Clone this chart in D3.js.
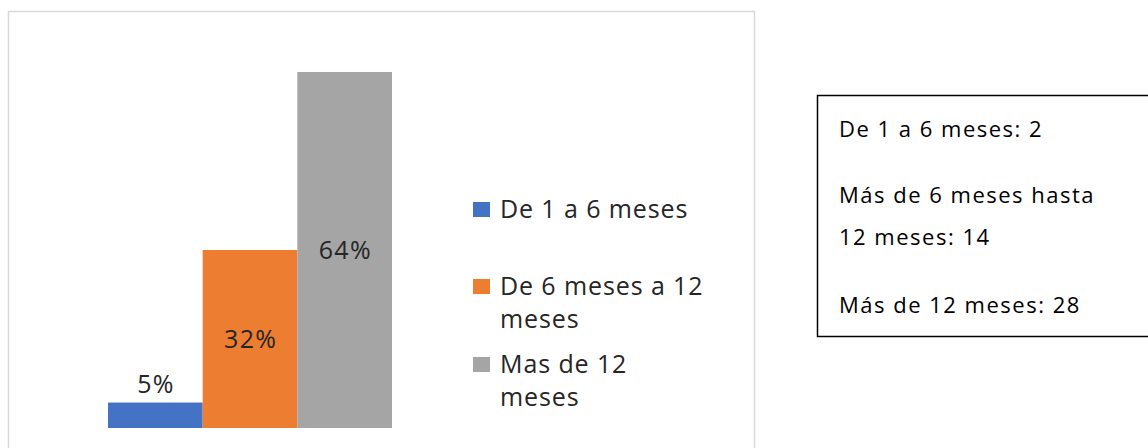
<!DOCTYPE html>
<html>
<head>
<meta charset="utf-8">
<script src="https://cdn.jsdelivr.net/npm/d3@7"></script>
<style>
  html, body { margin: 0; padding: 0; background: #fff; }
  svg { display: block; }
</style>
</head>
<body>
<svg id="chart" width="1148" height="448"></svg>
<script>
// data
const categories = ['De 1 a 6 meses', 'De 6 meses a 12 meses', 'Mas de 12 meses'];
const percents = [4.55, 31.82, 63.64];
const percentLabels = ['5%', '32%', '64%'];
const colors = ['#4472c4', '#ed7d31', '#a5a5a5'];
const legendLines = [['De 1 a 6 meses'], ['De 6 meses a 12', 'meses'], ['Mas de 12', 'meses']];
const boxLines = ['De 1 a 6 meses: 2', 'Más de 6 meses hasta', '12 meses: 14', 'Más de 12 meses: 28'];

const svg = d3.select('#chart');
const font = "'Open Sans', 'Noto Sans', sans-serif";

// chart frame
svg.append('rect')
  .attr('x', 8.5).attr('y', 11.5)
  .attr('width', 746).attr('height', 460)
  .attr('fill', '#fff')
  .attr('stroke', '#d9d9d9')
  .attr('stroke-width', 1.5);

// scales
const x = d3.scaleBand()
  .domain(categories)
  .range([108, 392])
  .padding(0);

const y = d3.scaleLinear()
  .domain([0, 70])
  .range([428, 36.4]);

// bars
svg.selectAll('rect.bar')
  .data(categories)
  .enter()
  .append('rect')
  .attr('class', 'bar')
  .attr('x', d => x(d))
  .attr('y', (d, i) => y(percents[i]))
  .attr('width', x.bandwidth())
  .attr('height', (d, i) => y(0) - y(percents[i]))
  .attr('fill', (d, i) => colors[i]);

// value labels: centred inside, or above the bar when it is too short
svg.selectAll('text.val')
  .data(categories)
  .enter()
  .append('text')
  .attr('class', 'val')
  .attr('x', d => x(d) + x.bandwidth() / 2 + 0.7)
  .attr('y', (d, i) => {
    const h = y(0) - y(percents[i]);
    return h > 40 ? (y(0) + y(percents[i])) / 2 + 9.5 : y(percents[i]) - 10;
  })
  .attr('text-anchor', 'middle')
  .attr('font-family', font)
  .attr('font-size', 25)
  .attr('letter-spacing', 1.4)
  .attr('fill', '#262626')
  .text((d, i) => percentLabels[i]);

// legend
const legendTop = [202, 279, 357];
const legend = svg.append('g');
categories.forEach((c, i) => {
  const g = legend.append('g').attr('transform', `translate(473,${legendTop[i]})`);
  g.append('rect')
    .attr('width', 17).attr('height', 15)
    .attr('fill', colors[i]);
  legendLines[i].forEach((line, j) => {
    g.append('text')
      .attr('x', 27)
      .attr('y', 15.5 + j * 33)
      .attr('font-family', font)
      .attr('font-size', 25)
      .attr('letter-spacing', 0.9)
      .attr('fill', '#262626')
      .text(line);
  });
});

// side text box
svg.append('rect')
  .attr('x', 817.5).attr('y', 95.5)
  .attr('width', 340).attr('height', 241)
  .attr('fill', '#fff')
  .attr('stroke', '#000')
  .attr('stroke-width', 1.5);

const boxBaselines = [136.5, 203, 245, 313];
svg.selectAll('text.box')
  .data(boxLines)
  .enter()
  .append('text')
  .attr('class', 'box')
  .attr('x', 839)
  .attr('y', (d, i) => boxBaselines[i])
  .attr('font-family', "'Open Sans', sans-serif")
  .attr('font-size', 22)
  .attr('letter-spacing', 1.5)
  .attr('fill', '#000')
  .text(d => d);
</script>
</body>
</html>
